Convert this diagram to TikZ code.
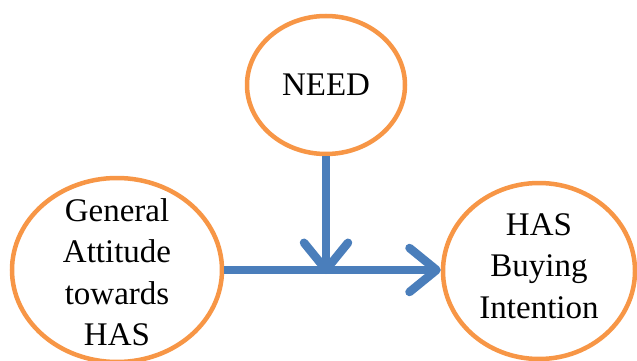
\documentclass[tikz,border=0pt]{standalone}
\usepackage{fontspec}
\setmainfont{Liberation Serif}
\usetikzlibrary{arrows.meta,shapes.geometric}
\definecolor{ringorange}{HTML}{F79646}
\definecolor{linkblue}{HTML}{4A7EBB}
\begin{document}
\begin{tikzpicture}[x=1pt,y=-1pt,
  construct/.style={ellipse, draw=ringorange, line width=4.5pt, fill=white, inner sep=0pt},
  caption/.style={align=center, inner sep=0pt, font=\fontsize{33}{41.5}\selectfont},
  link/.style={draw=linkblue, line width=8.5pt,
    -{Straight Barb[length=27pt, width=44pt, round]}}]
  \useasboundingbox (0,0) rectangle (637,361);
  % constructs
  \node[construct, minimum width=158pt, minimum height=138pt] (need) at (326,85) {};
  \node[construct, minimum width=210pt, minimum height=184pt] (att) at (117,270) {};
  \node[construct, minimum width=192pt, minimum height=176pt] (hbi) at (539,271) {};
  \node[caption] (needtxt) at (need.center) {NEED};
  \node[caption] (atttxt) at ([yshift=-2pt]att.center) {General\\Attitude\\towards\\HAS};
  \node[caption] (hbitxt) at ([yshift=5pt]hbi.center) {HAS\\Buying\\Intention};
  % paths
  \coordinate (join) at (need.south |- att.east);
  \draw[link] (att.east) -- (att.east -| hbi.west);
  \draw[link] (need.south) -- ([yshift=-4pt]join);
\end{tikzpicture}
\end{document}
